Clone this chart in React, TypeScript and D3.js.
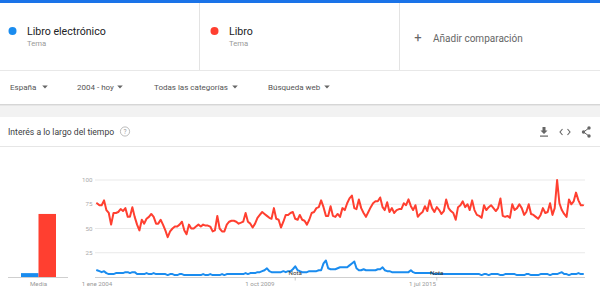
import React from "react";
import * as d3 from "d3";

const seriesNames = ["Libro electrónico", "Libro"];
const seriesColors = ["#1a8cef", "#ff3f30"];
const meanValues = [4, 65];
const yTicks = [25, 50, 75, 100];
const xTickDates = [new Date(2004, 0, 1), new Date(2009, 9, 1), new Date(2015, 6, 1)];
const xTickLabels = ["1 ene 2004", "1 oct 2009", "1 jul 2015"];
const notaDates = [new Date(2011, 0, 1), new Date(2016, 0, 1)];
const filters = ["España", "2004 - hoy", "Todas las categorías", "Búsqueda web"];

const libro = [
  76,74,74,79,69,66,54,66,66,67,70,68,71,62,62,72,62,54,48,59,55,60,62,65,62,55,55,59,54,48,41,47,50,52,52,54,57,48,44,54,50,50,52,54,52,54,53,53,52,47,48,
  63,50,47,47,54,57,58,58,57,55,56,57,66,57,55,51,55,61,64,67,65,63,61,60,71,60,59,51,57,64,64,66,67,60,59,64,59,58,54,59,66,67,71,72,79,72,63,63,73,63,62,
  65,62,71,69,76,81,84,71,70,80,71,66,62,67,72,76,78,78,82,72,69,77,67,71,66,69,70,70,76,74,80,73,69,74,62,65,67,73,68,79,71,67,72,69,65,68,80,71,68,66,59,72,74,
  78,72,75,69,79,69,64,63,61,74,69,72,74,71,68,71,81,63,62,63,61,75,69,71,75,71,64,67,75,65,64,62,60,64,71,66,67,76,64,71,100,76,69,65,62,80,75,78,87,79,74,74
];

const libroElectronico = [
  7,6,5,6,4,3,3,3,4,4,4,4,5,5,4,5,5,3,3,3,3,4,3,3,4,3,3,3,3,3,2,3,3,2,2,3,3,2,2,2,2,2,2,2,2,3,2,2,3,2,2,
  2,2,3,2,3,3,3,3,3,3,3,3,4,3,4,4,4,5,5,6,7,9,6,5,5,5,5,5,6,5,6,6,8,11,7,6,5,5,5,6,6,6,6,7,7,14,17,9,8,8,8,9,
  10,10,10,10,12,14,16,9,7,7,8,7,7,7,7,7,8,8,10,7,6,6,5,5,5,5,5,5,5,5,7,5,4,4,4,4,4,4,4,4,3,3,3,3,3,3,3,3,3,3,3,3,3,
  3,3,3,3,3,3,3,2,3,3,2,3,3,3,3,2,2,3,3,3,3,3,2,2,2,2,3,3,2,2,2,2,3,3,3,3,2,3,3,3,4,5,3,3,2,3,3,3,4,3,3,2
];

const W = 600, H = 300;
const FONT = "Roboto, 'Noto Sans', Arial, sans-serif";

export default function App() {
  const start = new Date(2004, 0, 1);
  const dates = libro.map((_, i) => d3.timeMonth.offset(start, i));
  const x = d3.scaleTime().domain([dates[0], dates[dates.length - 1]]).range([97, 583]);
  const y = d3.scaleLinear().domain([0, 100]).range([277, 180]);
  const line = d3.line<number>().x((_, i) => x(dates[i])).y((d) => y(d)).curve(d3.curveLinear);
  const series = [libroElectronico, libro];

  const bx = d3.scaleBand().domain(seriesNames).range([21, 56]).padding(0);

  const tri = (cx: number, cy: number) => `M${cx - 2.8},${cy - 1.4}L${cx + 2.8},${cy - 1.4}L${cx},${cy + 1.6}Z`;
  const filterX = [10, 77, 154, 268];
  const triX = [45, 120, 235, 327];

  return (
    <svg width={W} height={H} style={{ position: "fixed", left: 0, top: 0, display: "block", background: "#fff" }} fontFamily={FONT}>
      {/* top header */}
      <rect x={0} y={0} width={W} height={3} fill="#1a73e8" />
      <line x1={199.5} x2={199.5} y1={3} y2={70} stroke="#e3e3e3" />
      <line x1={399.5} x2={399.5} y1={3} y2={70} stroke="#e3e3e3" />
      {seriesNames.map((n, k) => (
        <g key={n} transform={`translate(${k * 202},0)`}>
          <circle cx={12.5} cy={31} r={4} fill={seriesColors[k]} />
          <text x={27} y={35} fontSize={10.6} fill="#202124">{n}</text>
          <text x={27} y={46} fontSize={7.7} fill="#9a9a9a">Tema</text>
        </g>
      ))}
      <text x={418} y={41.5} fontSize={13} fill="#666" textAnchor="middle">+</text>
      <text x={433} y={41.5} fontSize={10} fill="#666">Añadir comparación</text>
      <line x1={0} x2={W} y1={70.5} y2={70.5} stroke="#e8e8e8" />

      {/* filters */}
      {filters.map((f, k) => (
        <g key={f}>
          <text x={filterX[k]} y={90.3} fontSize={8} fill="#555">{f}</text>
          <path d={tri(triX[k], 87)} fill="#666" />
        </g>
      ))}
      <rect x={0} y={104} width={W} height={13} fill="#f2f2f2" />
      <line x1={0} x2={W} y1={104.5} y2={104.5} stroke="#d6d6d6" />
      <line x1={0} x2={W} y1={105.5} y2={105.5} stroke="#e6e6e6" />

      {/* card title */}
      <text x={8} y={134.8} fontSize={8.6} fill="#3c4043">Interés a lo largo del tiempo</text>
      <circle cx={125} cy={131.5} r={4.6} fill="none" stroke="#aaa" strokeWidth={0.8} />
      <text x={125} y={134.2} fontSize={6.5} fill="#999" textAnchor="middle">?</text>
      {/* icons */}
      <g fill="#666" stroke="#666">
        <path d="M542.5,127 L545.5,127 L545.5,130.5 L547.5,130.5 L544,134 L540.5,130.5 L542.5,130.5 Z" stroke="none" />
        <rect x={540} y={135.5} width={8} height={1.2} stroke="none" />
        <path d="M562.5,129 L560,132 L562.5,135 M567.5,129 L570,132 L567.5,135" fill="none" strokeWidth={1.1} />
        <path d="M589,128 L583.5,132 L589,136" fill="none" strokeWidth={1} />
        <circle cx={589} cy={128} r={1.7} stroke="none" />
        <circle cx={583.5} cy={132} r={1.7} stroke="none" />
        <circle cx={589} cy={136} r={1.7} stroke="none" />
      </g>
      <line x1={0} x2={W} y1={146.5} y2={146.5} stroke="#e6e6e6" />

      {/* mean bars */}
      {meanValues.map((v, k) => (
        <rect key={k} x={bx(seriesNames[k])} y={y(v)} width={bx.bandwidth()} height={y(0) - y(v)} fill={seriesColors[k]} />
      ))}
      <line x1={8} x2={68} y1={277.5} y2={277.5} stroke="#cfcfcf" />
      <text x={38.5} y={285.5} fontSize={6.2} fill="#999" textAnchor="middle">Media</text>

      {/* grid */}
      {yTicks.map((t) => (
        <g key={t}>
          <line x1={95} x2={585} y1={y(t)} y2={y(t)} stroke="#e9e9e9" />
          <text x={92.5} y={y(t) + 2.2} fontSize={6.2} fill="#aaa" textAnchor="end">{t}</text>
        </g>
      ))}
      <line x1={95} x2={585} y1={277.5} y2={277.5} stroke="#cfcfcf" />
      {xTickDates.map((d, k) => (
        <text key={k} x={x(d)} y={285.5} fontSize={6.2} fill="#999" textAnchor="middle">{xTickLabels[k]}</text>
      ))}

      {/* lines */}
      {series.map((s, k) => (
        <path key={k} d={line(s) || ""} fill="none" stroke={seriesColors[k]} strokeWidth={2} strokeLinejoin="round" strokeLinecap="round" />
      ))}

      {/* notes */}
      {notaDates.map((d, k) => (
        <g key={k}>
          <text x={x(d)} y={274.5} fontSize={6.2} fill="#333" textAnchor="middle">Nota</text>
          <line x1={x(d)} x2={x(d)} y1={277} y2={280.5} stroke="#bbb" strokeWidth={0.8} />
        </g>
      ))}
    </svg>
  );
}
